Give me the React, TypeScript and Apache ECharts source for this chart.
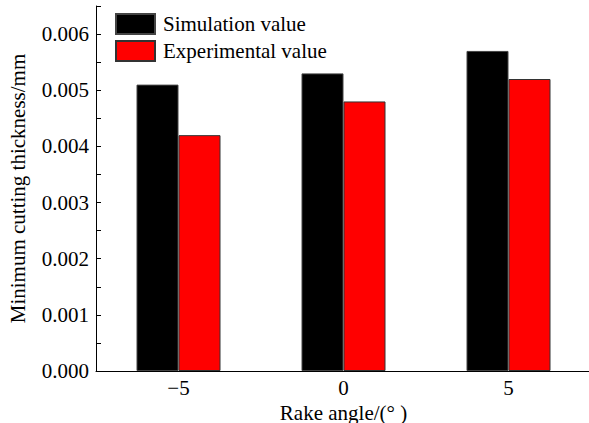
import React, { useEffect, useRef } from "react";
import * as echarts from "echarts";

const categories = ["\u22125", "0", "5"];
const simulationValues = [0.0051, 0.0053, 0.0057];
const experimentalValues = [0.0042, 0.0048, 0.0052];
const seriesNames = ["Simulation value", "Experimental value"];
const xTitle = "Rake angle/(\u00b0 )";
const yTitle = "Minimum cutting thickness/mm";

const FONT = "Liberation Serif";

export default function App() {
  const ref = useRef<HTMLDivElement>(null);
  useEffect(() => {
    if (!ref.current) return;
    const chart = echarts.init(ref.current, undefined, { renderer: "svg" });
    chart.setOption({
      animation: false,
      backgroundColor: "#ffffff",
      textStyle: { fontFamily: FONT, color: "#000" },
      grid: { left: 96, top: 6, bottom: 52, right: -2, containLabel: false, outerBoundsMode: "none" },
      legend: {
        orient: "vertical",
        left: 110,
        top: 8,
        itemWidth: 39,
        itemHeight: 20,
        itemGap: 5,
        icon: "rect",
        textStyle: { fontFamily: FONT, fontSize: 21, color: "#000", padding: [0, 0, 0, 3], lineHeight: 20 },
        data: seriesNames,
      },
      xAxis: {
        type: "category",
        data: categories,
        boundaryGap: true,
        name: xTitle,
        nameLocation: "middle",
        nameGap: 23,
        nameTextStyle: { fontFamily: FONT, fontSize: 21, color: "#000" },
        axisLine: { lineStyle: { color: "#000", width: 1 } },
        axisTick: { inside: true, length: 5, lineStyle: { color: "#000" } },
        axisLabel: { fontFamily: FONT, fontSize: 21, color: "#000", margin: 6 },
        splitLine: { show: false },
      },
      yAxis: {
        type: "value",
        min: 0,
        max: 0.0065,
        interval: 0.0005,
        name: yTitle,
        nameLocation: "middle",
        nameGap: 68,
        nameTextStyle: { fontFamily: FONT, fontSize: 21, color: "#000" },
        axisLine: { show: true, lineStyle: { color: "#000", width: 1 } },
        axisTick: { show: true, inside: true, length: 5, lineStyle: { color: "#000" } },
        axisLabel: {
          fontFamily: FONT,
          fontSize: 21,
          color: "#000",
          margin: 7,
          formatter: (v: number) => {
            const k = Math.round(v * 2000);
            return k % 2 === 0 ? v.toFixed(3) : "";
          },
        },
        splitLine: { show: false },
      },
      series: [
        {
          name: seriesNames[0],
          type: "bar",
          data: simulationValues,
          barWidth: 42,
          barGap: "0%",
          itemStyle: { color: "#000000", borderColor: "#444", borderWidth: 1 },
        },
        {
          name: seriesNames[1],
          type: "bar",
          data: experimentalValues,
          barWidth: 42,
          barGap: "0%",
          itemStyle: { color: "#ff0000", borderColor: "#333", borderWidth: 1 },
        },
      ],
    });
    return () => chart.dispose();
  }, []);
  return (
    <div
      ref={ref}
      style={{ position: "fixed", left: 0, top: 0, width: 589, height: 423 }}
    />
  );
}
